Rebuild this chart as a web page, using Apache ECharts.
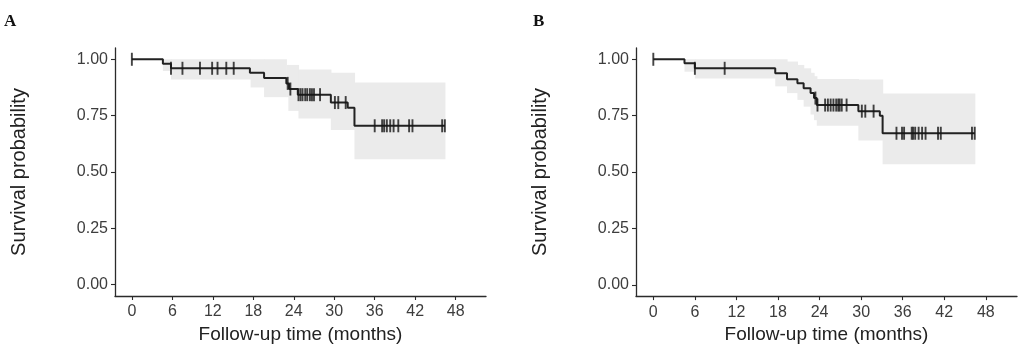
<!DOCTYPE html>
<html>
<head>
<meta charset="utf-8">
<script src="https://cdn.jsdelivr.net/npm/echarts@6/dist/echarts.min.js"></script>
<style>
html,body{margin:0;padding:0;background:#fff;}
#c{width:1024px;height:349px;}
</style>
</head>
<body>
<div id="c"></div>
<script>
// ---------- Data ----------
const xTicks = [0, 6, 12, 18, 24, 30, 36, 42, 48];
const yTicks = [0, 0.25, 0.5, 0.75, 1.0];

// Panel A: Kaplan-Meier steps
const timesA = [0, 4.6, 5.8, 17.5, 19.6, 22.9, 23.3, 24.6, 29.5, 32.0, 33.0, 46.4];
const survA  = [1.0, 0.98, 0.96, 0.94, 0.917, 0.893, 0.868, 0.843, 0.808, 0.785, 0.705, 0.705];
const censorA = [0, 5.8, 7.5, 10.1, 11.9, 12.7, 14.0, 15.1, 23.1, 23.5, 24.7, 25.0, 25.3, 25.7, 26.0, 26.4, 26.7, 27.0, 27.9, 30.1, 30.6, 31.7, 36.0, 37.1, 37.4, 37.8, 38.3, 38.8, 39.5, 41.1, 41.6, 46.0, 46.4];
const bandA_t  = [0, 4.6, 5.8, 17.6, 19.6, 22.9, 23.2, 24.7, 29.5, 33.0, 46.4];
const bandA_lo = [1.0, 0.948, 0.91, 0.875, 0.832, 0.832, 0.771, 0.737, 0.686, 0.557, 0.557];
const bandA_hi = [1.0, 1.0, 1.0, 1.0, 1.0, 0.975, 0.975, 0.955, 0.94, 0.897, 0.897];

// Panel B: Kaplan-Meier steps
const timesB = [0, 4.5, 6.0, 17.6, 19.3, 20.8, 21.7, 22.7, 23.2, 23.6, 29.6, 32.7, 33.1, 46.4];
const survB  = [1.0, 0.982, 0.96, 0.938, 0.912, 0.894, 0.872, 0.85, 0.828, 0.797, 0.77, 0.75, 0.672, 0.672];
const censorB = [0, 6.0, 10.3, 23.4, 23.7, 24.8, 25.2, 25.6, 26.0, 26.4, 26.7, 26.9, 27.2, 27.9, 30.1, 30.6, 31.8, 35.1, 35.9, 36.2, 37.3, 37.5, 37.8, 38.3, 38.8, 39.3, 41.1, 41.5, 46.0, 46.4];
const bandB_t  = [0, 4.5, 6.0, 17.6, 19.3, 20.8, 21.7, 22.7, 23.2, 23.6, 29.6, 33.1, 46.4];
const bandB_lo = [1.0, 0.945, 0.915, 0.88, 0.85, 0.82, 0.79, 0.755, 0.73, 0.705, 0.64, 0.535, 0.535];
const bandB_hi = [1.0, 1.0, 1.0, 1.0, 0.99, 0.975, 0.96, 0.94, 0.925, 0.913, 0.91, 0.848, 0.848];

const xTitle = 'Follow-up time (months)';
const yTitle = 'Survival probability';
const panelLabels = ['A', 'B'];

// ---------- helpers ----------
function stepValue(times, surv, t) {
  let v = surv[0];
  for (let i = 0; i < times.length; i++) { if (times[i] <= t) v = surv[i]; }
  return v;
}
const pair = (xs, ys) => xs.map((x, i) => [x, ys[i]]);
// band segments: [tStart, tEnd, lo, hi]
function bandSegments(t, lo, hi) {
  const out = [];
  for (let i = 0; i < t.length - 1; i++) out.push([t[i], t[i + 1], lo[i], hi[i]]);
  return out;
}

const axisColor = '#2b2b2b';
const labelColor = '#3d3d3d';
const font = 'Liberation Sans, Arial, sans-serif';

function xAxisFor(gi) {
  return {
    type: 'value', gridIndex: gi, min: -2.5, max: 52.5,
    name: xTitle, nameLocation: 'middle', nameGap: 26,
    nameTextStyle: { fontFamily: font, fontSize: 19, color: '#222' },
    axisLine: { show: true, onZero: false, lineStyle: { color: axisColor, width: 1.3 } },
    axisTick: { show: true, length: 4, lineStyle: { color: axisColor, width: 1.1 }, customValues: xTicks },
    axisLabel: { margin: 8, fontFamily: font, fontSize: 16, color: labelColor, customValues: xTicks },
    splitLine: { show: false }
  };
}
function yAxisFor(gi) {
  return {
    type: 'value', gridIndex: gi, min: -0.05, max: 1.05,
    name: yTitle, nameLocation: 'middle', nameGap: 86, nameRotate: 90,
    nameTextStyle: { fontFamily: font, fontSize: 20, color: '#222' },
    axisLine: { show: true, onZero: false, lineStyle: { color: axisColor, width: 1.3 } },
    axisTick: { show: true, length: 4, lineStyle: { color: axisColor, width: 1.1 }, customValues: yTicks },
    axisLabel: { margin: 7, fontFamily: font, fontSize: 16, color: labelColor, customValues: yTicks,
                 formatter: v => Number(v).toFixed(2) },
    splitLine: { show: false }
  };
}

function panelSeries(gi, times, surv, censor, bt, blo, bhi) {
  return [
    { type: 'custom', xAxisIndex: gi, yAxisIndex: gi, silent: true, z: 1,
      data: bandSegments(bt, blo, bhi),
      renderItem: function (params, api) {
        const p0 = api.coord([api.value(0), api.value(3)]);
        const p1 = api.coord([api.value(1), api.value(2)]);
        return {
          type: 'rect',
          shape: { x: p0[0], y: p0[1], width: p1[0] - p0[0] + 0.6, height: p1[1] - p0[1] },
          style: { fill: '#ebebeb' }
        };
      }
    },
    { type: 'line', xAxisIndex: gi, yAxisIndex: gi, step: 'end',
      data: pair(times, surv), symbol: 'none', lineStyle: { color: '#222', width: 2 }, z: 3 },
    { type: 'scatter', xAxisIndex: gi, yAxisIndex: gi,
      data: censor.map(t => [t, stepValue(times, surv, t)]),
      symbol: 'rect', symbolSize: [1.9, 13], itemStyle: { color: '#151515' }, z: 4 }
  ];
}

const chart = echarts.init(document.getElementById('c'), null, { renderer: 'canvas' });
chart.setOption({
  animation: false,
  backgroundColor: '#ffffff',
  title: [
    { text: panelLabels[0], left: -1, top: 8, textStyle: { fontFamily: 'Liberation Serif, Times New Roman, serif', fontWeight: 'bold', fontSize: 17, color: '#111' } },
    { text: panelLabels[1], left: 528, top: 8, textStyle: { fontFamily: 'Liberation Serif, Times New Roman, serif', fontWeight: 'bold', fontSize: 17, color: '#111' } }
  ],
  grid: [
    { left: 115, right: 538, top: 48, bottom: 53 },
    { left: 636, right: 7, top: 48, bottom: 52 }
  ],
  xAxis: [xAxisFor(0), xAxisFor(1)],
  yAxis: [yAxisFor(0), yAxisFor(1)],
  series: [
    ...panelSeries(0, timesA, survA, censorA, bandA_t, bandA_lo, bandA_hi),
    ...panelSeries(1, timesB, survB, censorB, bandB_t, bandB_lo, bandB_hi)
  ]
});
</script>
</body>
</html>
